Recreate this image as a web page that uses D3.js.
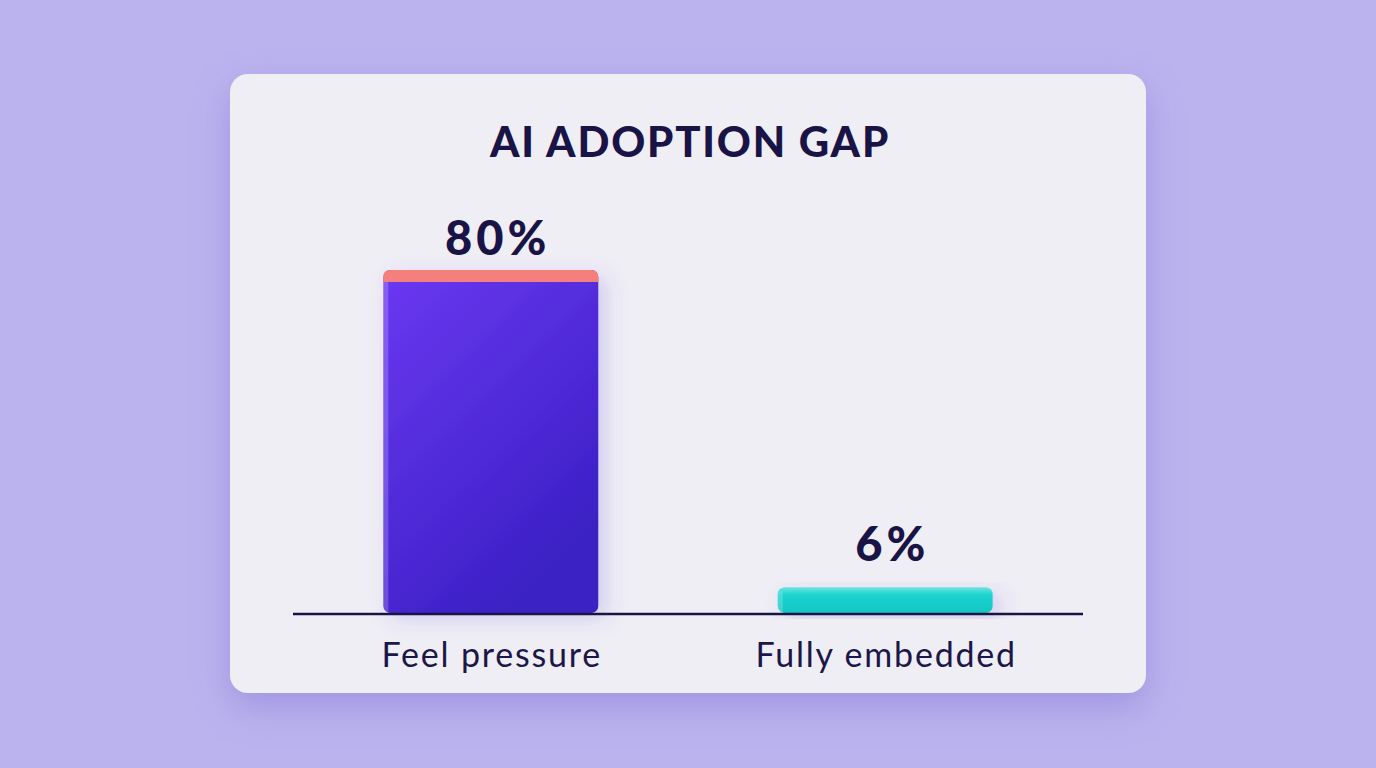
<!DOCTYPE html>
<html>
<head>
<meta charset="utf-8">
<script src="https://cdn.jsdelivr.net/npm/d3@7"></script>
<style>
  html, body { margin: 0; padding: 0; background: #bbb3ee; }
  svg { display: block; }
</style>
</head>
<body>
<div id="vis"></div>
<script>
const WIDTH = 1376;
const HEIGHT = 768;

// datos
const categories = ["Feel pressure", "Fully embedded"];
const values = [80, 6];
const valueLabels = ["80%", "6%"];
const title = "AI ADOPTION GAP";

const FONT = "Lato, 'Open Sans', sans-serif";

const SVG = d3.select("#vis").append("svg")
  .attr("width", WIDTH)
  .attr("height", HEIGHT);

const defs = SVG.append("defs");

// sombra de la tarjeta
const shadow = defs.append("filter").attr("id", "cardShadow")
  .attr("x", "-20%").attr("y", "-20%").attr("width", "140%").attr("height", "150%");
shadow.append("feDropShadow")
  .attr("dx", 0).attr("dy", 14).attr("stdDeviation", 18)
  .attr("flood-color", "#6f5fc8").attr("flood-opacity", 0.35);

const barShadow = defs.append("filter").attr("id", "barShadow")
  .attr("x", "-30%").attr("y", "-20%").attr("width", "160%").attr("height", "140%");
barShadow.append("feDropShadow")
  .attr("dx", 8).attr("dy", 6).attr("stdDeviation", 10)
  .attr("flood-color", "#5a3fd8").attr("flood-opacity", 0.2);

const purpleGrad = defs.append("linearGradient").attr("id", "purpleGrad")
  .attr("x1", "0%").attr("y1", "0%").attr("x2", "60%").attr("y2", "100%");
purpleGrad.append("stop").attr("offset", "0%").attr("stop-color", "#6b38f2");
purpleGrad.append("stop").attr("offset", "100%").attr("stop-color", "#3a20c4");

const tealGrad = defs.append("linearGradient").attr("id", "tealGrad")
  .attr("x1", "0%").attr("y1", "0%").attr("x2", "0%").attr("y2", "100%");
tealGrad.append("stop").attr("offset", "0%").attr("stop-color", "#6ee4e2");
tealGrad.append("stop").attr("offset", "30%").attr("stop-color", "#1bd3cf");
tealGrad.append("stop").attr("offset", "100%").attr("stop-color", "#13c6c4");

const colors = ["url(#purpleGrad)", "url(#tealGrad)"];
const capColors = ["#f57f7c", null];

// tarjeta
SVG.append("rect")
  .attr("x", 230).attr("y", 74)
  .attr("width", 916).attr("height", 619)
  .attr("rx", 18)
  .attr("fill", "#efeef5")
  .attr("filter", "url(#cardShadow)");

const BASE_Y = 613;
const TOP_Y = 270;

const x = d3.scaleBand()
  .domain(categories)
  .range([293, 1083])
  .paddingInner(0.455)
  .paddingOuter(0.229);

const y = d3.scaleLinear()
  .domain([0, 80])
  .range([BASE_Y, TOP_Y]);

const data = categories.map((c, i) => ({ cat: c, value: values[i], label: valueLabels[i], i }));

// título
SVG.append("text")
  .attr("x", 690).attr("y", 157)
  .attr("text-anchor", "middle")
  .attr("font-family", FONT)
  .attr("font-weight", 900)
  .attr("font-size", 42)
  .attr("letter-spacing", 1.8)
  .attr("fill", "#1a1446")
  .text(title);

const bars = SVG.append("g").selectAll("g")
  .data(data)
  .enter()
  .append("g");

bars.append("rect")
  .attr("x", d => x(d.cat))
  .attr("y", d => y(d.value))
  .attr("width", x.bandwidth())
  .attr("height", d => BASE_Y - y(d.value))
  .attr("rx", 7)
  .attr("fill", d => colors[d.i])
  .attr("filter", "url(#barShadow)");

// borde claro a la izquierda
bars.append("rect")
  .attr("x", d => x(d.cat))
  .attr("y", d => y(d.value) + 4)
  .attr("width", 5)
  .attr("height", d => BASE_Y - y(d.value) - 4)
  .attr("fill", "#ffffff")
  .attr("opacity", 0.2);

// tapa coral de la primera barra
bars.filter(d => capColors[d.i])
  .append("path")
  .attr("d", d => {
    const x0 = x(d.cat), x1 = x0 + x.bandwidth(), y0 = y(d.value), r = 7, h = 12;
    return `M${x0},${y0 + h} L${x0},${y0 + r} Q${x0},${y0} ${x0 + r},${y0} L${x1 - r},${y0} Q${x1},${y0} ${x1},${y0 + r} L${x1},${y0 + h} Z`;
  })
  .attr("fill", d => capColors[d.i]);

// etiquetas de valor
bars.append("text")
  .attr("x", d => x(d.cat) + x.bandwidth() / 2 + 7)
  .attr("y", d => y(d.value) - (d.i === 0 ? 15 : 26))
  .attr("text-anchor", "middle")
  .attr("font-family", FONT)
  .attr("font-weight", 900)
  .attr("font-size", 47)
  .attr("letter-spacing", 4)
  .attr("fill", "#1a1446")
  .text(d => d.label);

// línea base
SVG.append("line")
  .attr("x1", 293).attr("x2", 1083)
  .attr("y1", BASE_Y + 1).attr("y2", BASE_Y + 1)
  .attr("stroke", "#1a1446")
  .attr("stroke-width", 2.5);

// etiquetas de categoría
SVG.append("g").selectAll("text")
  .data(data)
  .enter()
  .append("text")
  .attr("x", d => x(d.cat) + x.bandwidth() / 2 + 1)
  .attr("y", 667)
  .attr("text-anchor", "middle")
  .attr("font-family", FONT)
  .attr("font-size", 34)
  .attr("letter-spacing", 1.8)
  .attr("fill", "#1c1748")
  .text(d => d.cat);
</script>
</body>
</html>
